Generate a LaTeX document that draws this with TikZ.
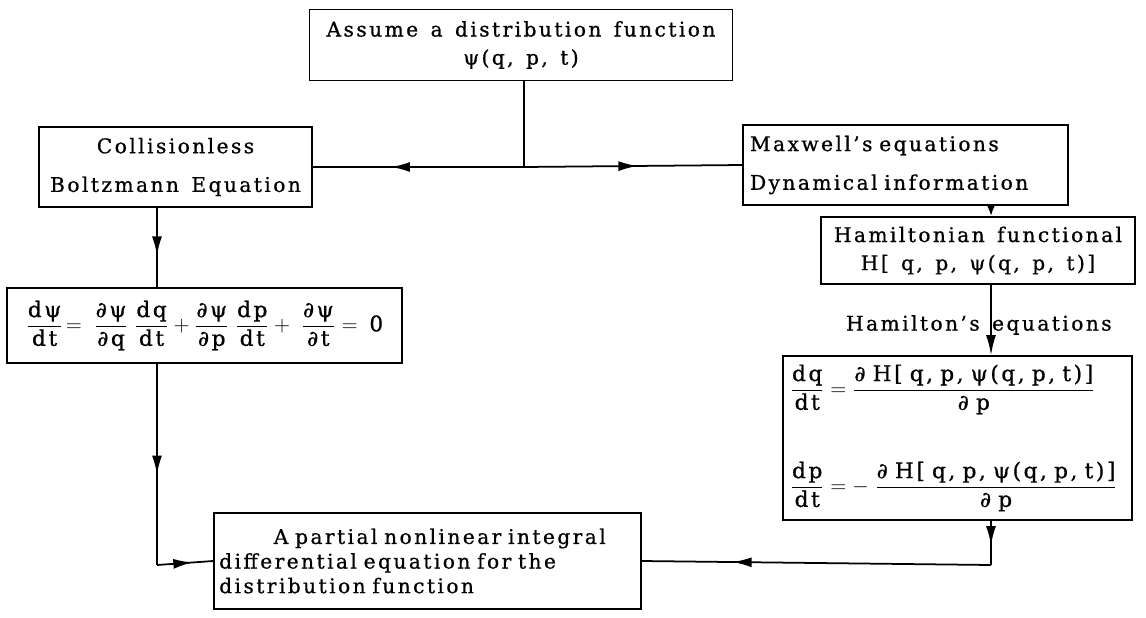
\documentclass[tikz,border=0pt]{standalone}
\usepackage{amsmath}
\usepackage{fontspec}
\setmainfont{DejaVu Serif}[LetterSpace=12,WordSpace=1.4,FakeBold=0.8]
\usepackage{tikz}
\usetikzlibrary{arrows.meta,positioning,decorations.markings}
\newcommand{\diagfont}{\fontsize{11.5}{14}\selectfont}
\newcommand{\eqfont}{\fontsize{12.3}{14}\selectfont}
\tikzset{
  boxy/.style   = {draw, line width=1pt, inner sep=0pt, align=center, font=\diagfont},
  leftbox/.style = {draw, line width=1pt, inner xsep=4pt, inner ysep=0pt, align=left, font=\diagfont},
  wire/.style   = {line width=1pt},
  flow/.style   = {line width=1pt, -{Latex[length=4mm,width=2mm]}},
  midarrow/.style = {line width=1pt, postaction={decorate},
                   decoration={markings, mark=at position #1 with {\arrow{Latex[length=3.8mm,width=2mm]}}}},
  midarrow/.default = 0.5,
}

\begin{document}
\begin{tikzpicture}[x=0.2mm,y=-0.2mm]
    \useasboundingbox (0,0) rectangle (1146,617);
    % boxes
    \node[boxy,minimum width=84.6mm,minimum height=14.2mm] (assume) at (521,45)
      {Assume a distribution function\\[2pt]ψ(q, p, t)};
    \node[boxy,minimum width=54.6mm,minimum height=16mm] (colless) at (175.5,167)
      {Collisionless\\[8pt]Boltzmann Equation};
    \node[leftbox,text width=62.2mm,minimum height=16mm] (maxwell) at (905.5,165)
      {Maxwell's equations\\[8pt]Dynamical information};
    \node[boxy,minimum width=62.8mm,minimum height=13.4mm] (hamfun) at (978,250.5)
      {Hamiltonian functional\\[2pt]H[ q, p, ψ(q, p, t)]};
    \node[boxy,font=\eqfont,minimum width=79mm,minimum height=15mm] (lefteq) at (204.5,325.5)
      {$\dfrac{\text{dψ}}{\text{dt}}\!=\;\dfrac{\text{∂ψ}}{\text{∂q}}\;\dfrac{\text{dq}}{\text{dt}}
        +\dfrac{\text{∂ψ}}{\text{∂p}}\;\dfrac{\text{dp}}{\text{dt}}+\;\dfrac{\text{∂ψ}}{\text{∂t}}=\;\text{0}$};
    \node[leftbox,font=\eqfont,text width=67mm,minimum height=32.8mm] (righteq) at (957.5,438)
      {$\dfrac{\text{dq}}{\text{dt}} = \dfrac{\text{∂ H[ q, p, ψ(q, p, t)]}}{\text{∂ p}}$\\[26pt]
       $\dfrac{\text{dp}}{\text{dt}} = -\;\dfrac{\text{∂ H[ q, p, ψ(q, p, t)]}}{\text{∂ p}}$};
    \node[leftbox,inner xsep=3pt,text width=83.3mm,minimum height=19.2mm] (result) at (427.5,561)
      {\hspace*{2.7em}A partial nonlinear integral\\differential equation for the\\distribution function};
    \node[font=\diagfont,anchor=east,inner sep=0pt] (hamlbl) at (1112,325) {Hamilton's equations};

    % corners of the connectors
    \coordinate (jn) at (524,167);
    \coordinate (lx) at (157,565);
    \coordinate (rx) at (991,565);

    \draw[wire] (assume.south -| jn) -- (jn);
    \draw[midarrow=0.63] (jn) -- (colless.east);
    \draw[midarrow=0.52] (jn) -- (maxwell.west);
    \draw[midarrow=0.6] (colless.south -| lx) -- (lefteq.north -| lx);
    \draw[midarrow=0.55] (lefteq.south -| lx) -- (lx);
    \draw[midarrow=0.63] (lx) -- (result.west);
    \draw[line width=1pt,-{Latex[length=2mm,width=1.5mm]}] (maxwell.south -| rx) -- (hamfun.north -| rx);
    \draw[flow] (hamfun.south -| rx) -- (righteq.north -| rx);
    \draw[midarrow=0.55] (righteq.south -| rx) -- (rx);
    \draw[midarrow=0.74] (rx) -- (result.east);
\end{tikzpicture}
\end{document}
